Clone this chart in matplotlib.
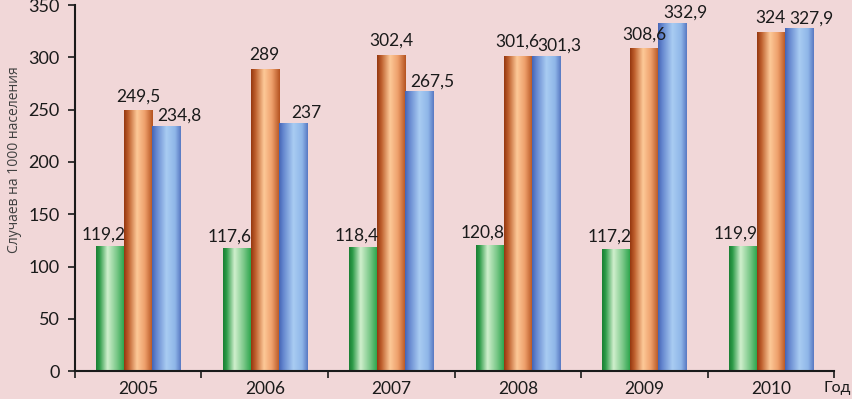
#!/usr/bin/env python

import numpy as np
import matplotlib
matplotlib.use("Agg")
import matplotlib.pyplot as plt
from matplotlib.colors import LinearSegmentedColormap

YEARS = ["2005", "2006", "2007", "2008", "2009", "2010"]
GREEN = [119.2, 117.6, 118.4, 120.8, 117.2, 119.9]
ORANGE = [249.5, 289, 302.4, 301.6, 308.6, 324]
BLUE = [234.8, 237, 267.5, 301.3, 332.9, 327.9]
Y_TICKS = [0, 50, 100, 150, 200, 250, 300, 350]

BG = "#f1d7d8"
FONT = ["Lato", "DejaVu Sans"]

# horizontal gradients, left edge -> right edge
GRADIENTS = {
    "green": [(0.0, "#1a7d33"), (0.12, "#2c9a47"), (0.4, "#d0efcd"),
              (0.72, "#7ac888"), (1.0, "#23a045")],
    "orange": [(0.0, "#94360f"), (0.15, "#bd5e2c"), (0.45, "#fdc998"),
               (0.72, "#eea06c"), (1.0, "#b4521f")],
    "blue": [(0.0, "#4463b4"), (0.15, "#6587cf"), (0.5, "#a9ccf2"),
             (0.8, "#8fb6e8"), (1.0, "#5878c2")],
}


def fmt(v):
    s = f"{v:g}"
    return s.replace(".", ",")


def gradient_bars(ax, bars, name):
    cmap = LinearSegmentedColormap.from_list(name, GRADIENTS[name])
    grad = np.linspace(0, 1, 256).reshape(1, -1)
    for b in bars:
        x0 = b.get_x()
        w = b.get_width()
        h = b.get_height()
        im = ax.imshow(grad, cmap=cmap, aspect="auto", interpolation="bilinear",
                       extent=[x0, x0 + w, 0, h], zorder=2)
        im.set_clip_path(b)


fig = plt.figure(figsize=(8.52, 3.99), dpi=100, facecolor=BG)
ax = fig.add_axes([0.088, 0.070, 0.891, 0.917])
ax.set_facecolor(BG)

x = np.arange(len(YEARS))
w = 0.222
series = [("green", GREEN, -w, (-7, 4)),
          ("orange", ORANGE, 0, (0, 6)),
          ("blue", BLUE, w, (13, 2))]

for name, vals, dx, (ox, oy) in series:
    bars = ax.bar(x + dx, vals, width=w, color="none", edgecolor="none", zorder=1)
    gradient_bars(ax, bars, name)
    for b, v in zip(bars, vals):
        ax.annotate(fmt(v), xy=(b.get_x() + b.get_width() / 2, b.get_height()),
                    xytext=(ox, oy), textcoords="offset pixels",
                    ha="center", va="bottom", fontsize=12.5, color="#1a1a1a",
                    family=FONT, zorder=3)

ax.set_xlim(-0.5, len(YEARS) - 0.5)
ax.set_ylim(0, 350)
ax.set_yticks(Y_TICKS)
ax.set_yticklabels([str(t) for t in Y_TICKS], family=FONT, fontsize=13,
                   color="#1a1a1a")

ax.set_xticks(np.arange(len(YEARS) + 1) - 0.5)
ax.set_xticklabels([])
ax.set_xticks(x, minor=True)
ax.set_xticklabels(YEARS, minor=True, family=FONT, fontsize=12.5, color="#1a1a1a")
ax.tick_params(axis="x", which="minor", length=0, pad=7)
ax.tick_params(axis="x", which="major", length=5, width=1.2, direction="out",
               color="#1a1a1a")
ax.tick_params(axis="y", length=5, width=1.2, direction="out", color="#1a1a1a",
               pad=6)

for s in ["top", "right"]:
    ax.spines[s].set_visible(False)
for s in ["left", "bottom"]:
    ax.spines[s].set_linewidth(1.5)
    ax.spines[s].set_color("#1a1a1a")

fig.text(0.008, 0.60, "Случаев на 1000 населения", rotation=90, ha="left",
         va="center", fontsize=10, color="#404040", family=["Open Sans", "DejaVu Sans"])
fig.text(0.999, 0.028, "Год", ha="right", va="center", fontsize=11.5,
         color="#1a1a1a", family=FONT)

fig.savefig("out.png", dpi=100, facecolor=BG)
